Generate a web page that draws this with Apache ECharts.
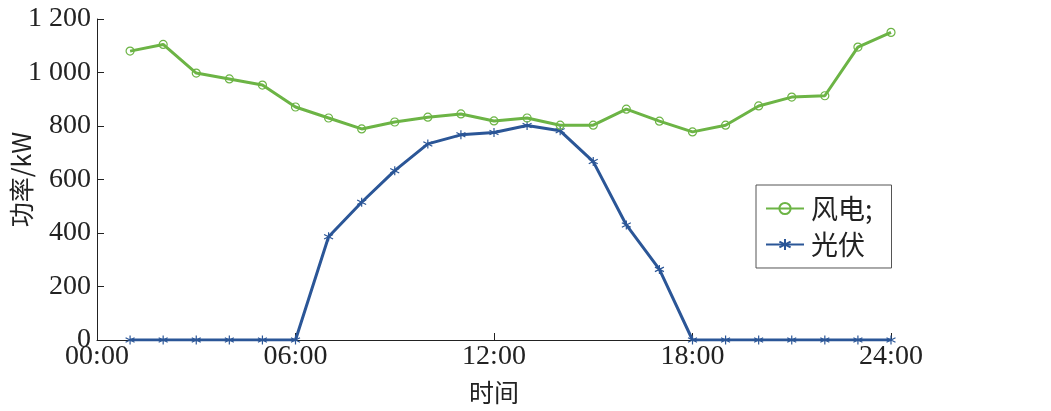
<!DOCTYPE html>
<html><head><meta charset="utf-8">
<script src="https://cdn.jsdelivr.net/npm/echarts@6/dist/echarts.min.js"></script>
<style>html,body{margin:0;padding:0;background:#fff}#c{width:1051px;height:411px}</style>
</head><body><div id="c"></div>
<script>
var hours = [1,2,3,4,5,6,7,8,9,10,11,12,13,14,15,16,17,18,19,20,21,22,23,24];
var wind = [1080,1105,998,976,953,871,830,789,815,833,845,819,830,803,803,863,818,778,803,875,908,913,1095,1150];
var solar = [0,0,0,0,0,0,386,515,633,733,767,776,802,782,667,430,264,0,0,0,0,0,0,0];
var xTicks = {0:'00:00',6:'06:00',12:'12:00',18:'18:00',24:'24:00'};
var seriesNames = ['风电;','光伏'];
var serif = '"Liberation Serif","Times New Roman",serif';
var cjk = '"Noto Sans CJK SC",sans-serif';
var green = '#6cb445', blue = '#2b5697';
var star = 'path://M0,-5L0,5M-4.33,-2.5L4.33,2.5M-4.33,2.5L4.33,-2.5';
function pairs(v){return hours.map(function(h,i){return [h,v[i]];});}
var chart = echarts.init(document.getElementById('c'));
chart.setOption({
  animation:false,
  grid:{left:97,right:160,top:19,bottom:71,outerBoundsMode:'none',containLabel:false},
  legend:{
    orient:'vertical',left:756,top:185,
    padding:[10,19,10,9],itemGap:9,itemWidth:38,itemHeight:14,
    borderColor:'#555',borderWidth:1,backgroundColor:'#fff',
    textStyle:{fontFamily:cjk,fontSize:27,color:'#222',padding:[0,0,0,2]},
    data:seriesNames
  },
  xAxis:{
    type:'value',min:0,max:24,interval:6,
    name:'时间',nameLocation:'middle',nameGap:40,nameMoveOverlap:false,
    nameTextStyle:{fontFamily:cjk,fontSize:25,color:'#222'},
    axisLine:{lineStyle:{color:'#222',width:1}},
    axisTick:{inside:true,length:7,lineStyle:{color:'#222'}},
    axisLabel:{fontFamily:serif,fontSize:28,color:'#222',margin:3,formatter:function(v){return xTicks[v]||'';}},
    splitLine:{show:false}
  },
  yAxis:{
    type:'value',min:0,max:1200,interval:200,
    name:'功率/kW',nameLocation:'middle',nameGap:63,nameRotate:90,nameMoveOverlap:false,
    nameTextStyle:{fontFamily:cjk,fontSize:25,color:'#222'},
    axisLine:{show:true,lineStyle:{color:'#222',width:1}},
    axisTick:{show:true,inside:true,length:7,lineStyle:{color:'#222'}},
    axisLabel:{fontFamily:serif,fontSize:28,color:'#222',margin:6,formatter:function(v){return v>=1000?Math.floor(v/1000)+' '+String(v%1000).padStart(3,'0'):String(v);}},
    splitLine:{show:false}
  },
  series:[
    {name:seriesNames[0],type:'line',data:pairs(wind),symbol:'circle',symbolSize:8,showAllSymbol:true,
     lineStyle:{color:green,width:3},itemStyle:{color:'rgba(255,255,255,0)',borderColor:green,borderWidth:1.2},z:3},
    {name:seriesNames[1],type:'line',data:pairs(solar),symbol:star,symbolSize:9,showAllSymbol:true,
     lineStyle:{color:blue,width:3},itemStyle:{color:blue,borderColor:blue,borderWidth:1.2},z:2}
  ]
});
</script></body></html>
